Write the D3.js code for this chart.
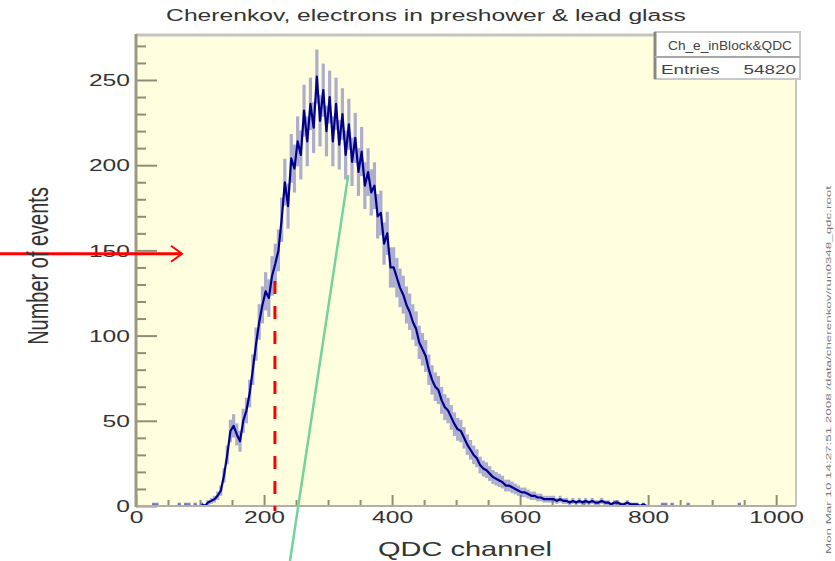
<!DOCTYPE html>
<html>
<head>
<meta charset="utf-8">
<script src="https://cdn.jsdelivr.net/npm/d3@7"></script>
<style>
  html, body { margin: 0; padding: 0; background: #ffffff; }
  svg { display: block; font-family: "Liberation Sans", Arial, Helvetica, sans-serif; }
</style>
</head>
<body>
<svg id="chart" width="835" height="561"></svg>
<script>
// ---- histogram: QDC spectrum, bins of 5 channels starting at channel 0 ----
const binLow = 0;
const binWidth = 5;
const counts = [
  0, 0, 0, 0, 0, 1, 1, 0, 0, 0,          // 0 - 45
  0, 0, 0, 1, 0, 1, 1, 0, 1, 0,          // 50 - 95
  1, 0, 2, 3, 4, 6, 9, 18, 30, 44,       // 100 - 145
  47, 42, 38, 50, 56, 66, 80, 95, 108, 118,   // 150 - 195
  126, 122, 135, 142, 150, 168, 190, 176, 204, 198, // 200 - 245
  214, 206, 232, 214, 236, 222, 252, 226, 244, 220, // 250 - 295
  240, 214, 236, 212, 230, 206, 224, 202, 216, 196, // 300 - 345
  208, 188, 196, 184, 188, 170, 172, 154, 160, 140, // 350 - 395
  140, 134, 128, 124, 118, 114, 108, 104, 96, 92,   // 400 - 445
  88, 80, 74, 70, 68, 62, 58, 56, 52, 48,           // 450 - 495
  45, 44, 40, 36, 33, 30, 28, 24, 22, 21,           // 500 - 545
  19, 17, 16, 15, 14, 12, 12, 11, 10, 9,            // 550 - 595
  8, 8, 7, 6, 6, 5, 5, 4, 4, 4,                     // 600 - 645
  4, 3, 4, 3, 3, 2, 3, 2, 3, 2,                     // 650 - 695
  3, 2, 3, 2, 2, 3, 2, 2, 1, 2,                     // 700 - 745
  2, 1, 1, 2, 1, 1, 1, 0, 1, 0,                     // 750 - 795
  0, 0, 0, 0, 1, 1, 0, 1, 0, 0,                     // 800 - 845
  0, 0, 1, 0, 0, 0, 0, 0, 0, 0,                     // 850 - 895
  0, 0, 0, 0, 0, 0, 0, 0, 1, 0                      // 900 - 945
];
// channels over which the connected spectrum line is drawn
const lineRange = [100, 800];

// axis setup
const xDomain = [0, 1031];
const yDomain = [0, 276.4];
const xMajor = [0, 200, 400, 600, 800, 1000];
const xMinor = [50, 100, 150, 250, 300, 350, 450, 500, 550, 650, 700, 750, 850, 900, 950];
const yMajor = [0, 50, 100, 150, 200, 250];
const yMinor = d3.range(10, 276, 10).filter(v => v % 50 !== 0);

// overlays
const markerLevel = 148;      // horizontal arrow height (events)
const markerChannel = 217;    // dashed cut position (QDC channel)
const markerTop = 132;        // top of the dashed cut (events)
const fitLine = [[240.5, -32.3], [331.5, 194.2]]; // straight green line (channel, events)

// texts
const titleText = "Cherenkov, electrons in preshower & lead glass";
const xTitle = "QDC channel";
const yTitle = "Number of events";
const statsName = "Ch_e_inBlock&QDC";
const statsEntries = "54820";
const sideNote = "Mon Mar 10 14:27:51 2008   /data/cherenkov/run0348_qdc.root";

// ---- drawing ----
const SX = 1.45; // horizontal stretch of the glyphs
const svg = d3.select("#chart");
const frame = { left: 136, right: 796, top: 35, bottom: 506 };

const x = d3.scaleLinear().domain(xDomain).range([frame.left, frame.right]);
const y = d3.scaleLinear().domain(yDomain).range([frame.bottom, frame.top]);

function stretchedText(px, py, str, size, anchor, fill) {
  return svg.append("text")
    .attr("transform", `translate(${px},${py}) scale(${SX},1)`)
    .attr("font-size", size)
    .attr("text-anchor", anchor)
    .attr("fill", fill || "#333")
    .text(str);
}

// frame background
svg.append("rect")
  .attr("x", frame.left).attr("y", frame.top)
  .attr("width", frame.right - frame.left).attr("height", frame.bottom - frame.top)
  .attr("fill", "#ffffe0");

// minor and major ticks, drawn inward
const tickColor = "#8e8e78";
function styleAxis(g) {
  g.select(".domain").remove();
  g.selectAll(".tick line").attr("stroke", tickColor).attr("stroke-width", 2);
}
svg.append("g").attr("transform", `translate(${frame.left},0)`)
  .call(d3.axisLeft(y).tickValues(yMinor).tickSize(-10).tickFormat(""))
  .call(styleAxis);
svg.append("g").attr("transform", `translate(0,${frame.bottom})`)
  .call(d3.axisBottom(x).tickValues(xMinor).tickSize(-6).tickFormat(""))
  .call(styleAxis);

const yAxis = svg.append("g").attr("transform", `translate(${frame.left},0)`)
  .call(d3.axisLeft(y).tickValues(yMajor).tickSize(-21).tickPadding(0).tickFormat(d3.format("d")))
  .call(styleAxis);
yAxis.selectAll(".tick text")
  .attr("x", -6 / SX).attr("dy", "0.34em")
  .attr("transform", `scale(${SX},1)`)
  .attr("font-size", 17).attr("fill", "#333").attr("font-family", null);

const xAxis = svg.append("g").attr("transform", `translate(0,${frame.bottom})`)
  .call(d3.axisBottom(x).tickValues(xMajor).tickSize(-11).tickPadding(5).tickFormat(d3.format("d")))
  .call(styleAxis);
xAxis.selectAll(".tick text")
  .attr("transform", `scale(${SX},1)`)
  .attr("font-size", 17).attr("fill", "#333").attr("font-family", null);

// histogram bins
const bins = counts.map((c, i) => ({ lo: binLow + i * binWidth, hi: binLow + (i + 1) * binWidth, n: c }));
const filled = bins.filter(b => b.n > 0);

// statistical error bands
svg.append("g").selectAll("rect").data(filled).join("rect")
  .attr("x", b => x(b.lo))
  .attr("width", b => x(b.hi) - x(b.lo))
  .attr("y", b => y(b.n + Math.sqrt(b.n)))
  .attr("height", b => y(Math.max(b.n - Math.sqrt(b.n), 0)) - y(b.n + Math.sqrt(b.n)))
  .attr("fill", "#6a6ac0")
  .attr("fill-opacity", 0.55);

// bin contents outside the connected range
svg.append("g").selectAll("line")
  .data(filled.filter(b => b.lo < lineRange[0] || b.lo >= lineRange[1]))
  .join("line")
  .attr("x1", b => x(b.lo)).attr("x2", b => x(b.hi))
  .attr("y1", b => y(b.n)).attr("y2", b => y(b.n))
  .attr("stroke", "#5050b0").attr("stroke-width", 2).attr("stroke-opacity", 0.6);

// connected spectrum
const lineBins = bins.filter(b => b.lo >= lineRange[0] && b.lo < lineRange[1]);
svg.append("path")
  .datum(lineBins)
  .attr("d", d3.line().x(b => x((b.lo + b.hi) / 2)).y(b => y(b.n)))
  .attr("fill", "none")
  .attr("stroke", "#00008c")
  .attr("stroke-width", 2.2)
  .attr("stroke-linejoin", "round");

// frame border
svg.append("line").attr("x1", frame.left).attr("x2", frame.right).attr("y1", frame.top).attr("y2", frame.top)
  .attr("stroke", "#c4c4c0").attr("stroke-width", 3);
svg.append("line").attr("x1", frame.right).attr("x2", frame.right).attr("y1", frame.top).attr("y2", frame.bottom)
  .attr("stroke", "#c4c4c0").attr("stroke-width", 2);
svg.append("line").attr("x1", frame.left).attr("x2", frame.right).attr("y1", frame.bottom).attr("y2", frame.bottom)
  .attr("stroke", "#b0b0a8").attr("stroke-width", 2);
svg.append("line").attr("x1", frame.left).attr("x2", frame.left).attr("y1", frame.top - 1).attr("y2", frame.bottom + 1)
  .attr("stroke", "#9a9a84").attr("stroke-width", 3);

// green straight line
svg.append("line")
  .attr("x1", x(fitLine[0][0])).attr("y1", y(fitLine[0][1]))
  .attr("x2", x(fitLine[1][0])).attr("y2", y(fitLine[1][1]))
  .attr("stroke", "#74d39a").attr("stroke-width", 2.5);

// dashed cut
svg.append("line")
  .attr("x1", x(markerChannel)).attr("x2", x(markerChannel))
  .attr("y1", y(markerTop)).attr("y2", frame.bottom + 5)
  .attr("stroke", "#ff0000").attr("stroke-width", 3)
  .attr("stroke-dasharray", "13,12");

// horizontal arrow from the left margin
const arrowY = y(markerLevel);
const arrowTip = 182;
svg.append("line").attr("x1", 0).attr("x2", arrowTip).attr("y1", arrowY).attr("y2", arrowY)
  .attr("stroke", "#ff0000").attr("stroke-width", 3);
svg.append("path")
  .attr("d", `M${arrowTip - 11},${arrowY - 8} L${arrowTip},${arrowY} L${arrowTip - 11},${arrowY + 8}`)
  .attr("fill", "none").attr("stroke", "#ff0000").attr("stroke-width", 2);

// stats box
const box = { x0: 655, x1: 800, y0: 32, y1: 79, mid: 57 };
svg.append("rect").attr("x", box.x0).attr("y", box.y0)
  .attr("width", box.x1 - box.x0).attr("height", box.y1 - box.y0)
  .attr("fill", "#ffffff").attr("stroke", "#c8c8c8").attr("stroke-width", 2);
svg.append("line").attr("x1", box.x0).attr("x2", box.x0).attr("y1", box.y0).attr("y2", box.y1)
  .attr("stroke", "#8a8a80").attr("stroke-width", 3);
svg.append("line").attr("x1", box.x0).attr("x2", box.x1).attr("y1", box.mid).attr("y2", box.mid)
  .attr("stroke", "#a8a8a8").attr("stroke-width", 2);
svg.append("text").attr("x", 668).attr("y", 50).attr("font-size", 13).attr("fill", "#444")
  .attr("textLength", 124).attr("lengthAdjust", "spacingAndGlyphs").text(statsName);
stretchedText(661, 74, "Entries", 13, "start", "#444");
stretchedText(796, 74, statsEntries, 13, "end", "#444");

// title and axis titles
stretchedText(426, 21, titleText, 17, "middle");
stretchedText(465, 556, xTitle, 20, "middle");
svg.append("text")
  .attr("transform", `translate(48,266) scale(${SX},1) rotate(-90)`)
  .attr("font-size", 20).attr("text-anchor", "middle").attr("fill", "#333")
  .text(yTitle);

// side note along the right edge
svg.append("text")
  .attr("transform", `translate(831,370) rotate(-90)`)
  .attr("font-size", 8).attr("text-anchor", "middle").attr("fill", "#777")
  .attr("textLength", 368).attr("lengthAdjust", "spacingAndGlyphs")
  .text(sideNote);
</script>
</body>
</html>
